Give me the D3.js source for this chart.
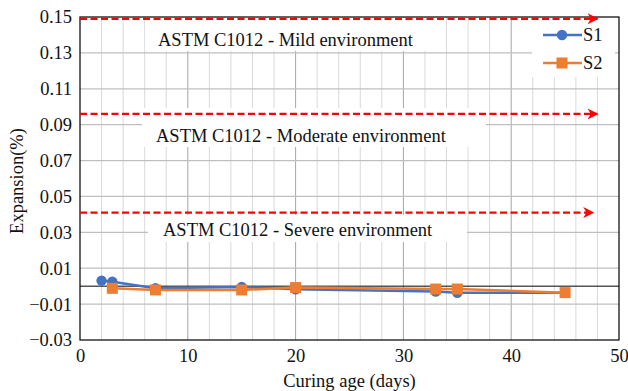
<!DOCTYPE html>
<html>
<head>
<meta charset="utf-8">
<script src="https://cdn.jsdelivr.net/npm/d3@7"></script>
<style>
  html, body { margin: 0; padding: 0; background: #fff; }
  #chart text { font-family: "Liberation Serif", "Times New Roman", "DejaVu Serif", serif; fill: #111; }
</style>
</head>
<body>
<svg id="chart" width="628" height="391"></svg>
<script>
// Curing age (days) and expansion (%) for the two mixes
const curingAge = [2, 3, 7, 15, 20, 33, 35, 45];
const s1Values = [0.0031, 0.0025, -0.0012, -0.0005, -0.0017, -0.0030, -0.0037, -0.0036];
const s2Age = [3, 7, 15, 20, 33, 35, 45];
const s2Values = [-0.0012, -0.0021, -0.0021, -0.0008, -0.0016, -0.0016, -0.0036];

// Axis ticks
const xTicks = [0, 10, 20, 30, 40, 50];
const xMinorTicks = d3.range(2, 50, 2);
const yTicks = [-0.03, -0.01, 0.01, 0.03, 0.05, 0.07, 0.09, 0.11, 0.13, 0.15];

// ASTM C1012 limit arrows: level (%), arrow end (days), label
const limitLevels = [0.149, 0.096, 0.041];
const limitEnds = [48, 48, 47.6];
const limitLabels = [
  "ASTM C1012 - Mild environment",
  "ASTM C1012 - Moderate environment",
  "ASTM C1012 - Severe environment"
];

const seriesNames = ["S1", "S2"];
const seriesColors = ["#4472C4", "#ED7D31"];

const FONT = "18.5px 'Liberation Serif', 'Times New Roman', serif";

const svg = d3.select("#chart");
const plot = { left: 80, right: 619, top: 17, bottom: 340 };

const x = d3.scaleLinear().domain([0, 50]).range([plot.left, plot.right]);
const y = d3.scaleLinear().domain([-0.03, 0.15]).range([plot.bottom, plot.top]);

// Gridlines
const grid = svg.append("g");
grid.selectAll(".vminor").data(xMinorTicks.filter(d => d % 10 !== 0)).join("line")
  .attr("x1", d => x(d)).attr("x2", d => x(d))
  .attr("y1", plot.top).attr("y2", plot.bottom)
  .attr("stroke", "#d9d9d9").attr("stroke-width", 1);
grid.selectAll(".vmajor").data(xTicks.slice(1, -1)).join("line")
  .attr("x1", d => x(d)).attr("x2", d => x(d))
  .attr("y1", plot.top).attr("y2", plot.bottom)
  .attr("stroke", "#a6a6a6").attr("stroke-width", 1);
grid.selectAll(".hmajor").data(yTicks.slice(1, -1)).join("line")
  .attr("x1", plot.left).attr("x2", plot.right)
  .attr("y1", d => y(d)).attr("y2", d => y(d))
  .attr("stroke", "#bfbfbf").attr("stroke-width", 1.2);

// White label boxes that sit over the grid
const boxes = [
  { x0: 145, x1: 434, y0: plot.top + 1, y1: 51 },
  { x0: 142, x1: 486, y0: 108, y1: 147 },
  { x0: 148, x1: 467, y0: 215, y1: 242 },
  { x0: 532, x1: 615, y0: plot.top + 1, y1: 77 }
];
svg.append("g").selectAll("rect").data(boxes).join("rect")
  .attr("x", d => d.x0).attr("y", d => d.y0)
  .attr("width", d => d.x1 - d.x0).attr("height", d => d.y1 - d.y0)
  .attr("fill", "#fff");

// Zero line
svg.append("line")
  .attr("x1", plot.left).attr("x2", plot.right)
  .attr("y1", y(0)).attr("y2", y(0))
  .attr("stroke", "#000").attr("stroke-width", 1);

// Plot frame
svg.append("rect")
  .attr("x", plot.left).attr("y", plot.top)
  .attr("width", plot.right - plot.left).attr("height", plot.bottom - plot.top)
  .attr("fill", "none").attr("stroke", "#000").attr("stroke-width", 1.2);

// Limit arrows
const defs = svg.append("defs");
defs.append("marker")
  .attr("id", "arrowhead").attr("viewBox", "0 0 10 10")
  .attr("refX", 9).attr("refY", 5)
  .attr("markerWidth", 4.6).attr("markerHeight", 4.6)
  .attr("markerUnits", "strokeWidth").attr("orient", "auto")
  .append("path").attr("d", "M0,0 L10,5 L0,10 L3,5 Z").attr("fill", "#ff0000");

svg.append("g").selectAll("line").data(limitLevels).join("line")
  .attr("x1", x(0)).attr("x2", (d, i) => x(limitEnds[i]))
  .attr("y1", d => y(d)).attr("y2", d => y(d))
  .attr("stroke", "#ff0000").attr("stroke-width", 2.4)
  .attr("stroke-dasharray", "7,3.5")
  .attr("marker-end", "url(#arrowhead)");

const labelPos = [{ x: 158, y: 46 }, { x: 156, y: 142 }, { x: 163, y: 236 }];
svg.append("g").selectAll("text").data(limitLabels).join("text")
  .attr("x", (d, i) => labelPos[i].x).attr("y", (d, i) => labelPos[i].y)
  .style("font", FONT).text(d => d);

// Series
const line = d3.line().x(d => x(d[0])).y(d => y(d[1]));
const s1 = curingAge.map((d, i) => [d, s1Values[i]]);
const s2 = s2Age.map((d, i) => [d, s2Values[i]]);

svg.append("path").datum(s1).attr("d", line)
  .attr("fill", "none").attr("stroke", seriesColors[0]).attr("stroke-width", 2.5);
svg.append("g").selectAll("circle").data(s1).join("circle")
  .attr("cx", d => x(d[0])).attr("cy", d => y(d[1])).attr("r", 5.2)
  .attr("fill", seriesColors[0]);

svg.append("path").datum(s2).attr("d", line)
  .attr("fill", "none").attr("stroke", seriesColors[1]).attr("stroke-width", 2.5);
svg.append("g").selectAll("rect").data(s2).join("rect")
  .attr("x", d => x(d[0]) - 5.5).attr("y", d => y(d[1]) - 5.5)
  .attr("width", 11).attr("height", 11)
  .attr("fill", seriesColors[1]);

// Axes labels
const yAxis = d3.axisLeft(y).tickValues(yTicks).tickSize(0).tickPadding(8)
  .tickFormat(d3.format(".2f"));
const gy = svg.append("g").attr("transform", `translate(${plot.left},0)`).call(yAxis);
gy.select(".domain").remove();
gy.selectAll("text").style("font", FONT).attr("fill", "#111");

const xAxis = d3.axisBottom(x).tickValues(xTicks).tickSize(0).tickPadding(9);
const gx = svg.append("g").attr("transform", `translate(0,${plot.bottom})`).call(xAxis);
gx.select(".domain").remove();
gx.selectAll("text").style("font", FONT).attr("fill", "#111");

svg.append("text").attr("x", (plot.left + plot.right) / 2).attr("y", 387)
  .attr("text-anchor", "middle").style("font", FONT).text("Curing age (days)");
svg.append("text").attr("transform", "translate(23,181) rotate(-90)")
  .attr("text-anchor", "middle").style("font", FONT).text("Expansion(%)");

// Legend
const legend = svg.append("g");
seriesNames.forEach((name, i) => {
  const ly = 35 + i * 28;
  legend.append("line").attr("x1", 543).attr("x2", 582).attr("y1", ly).attr("y2", ly)
    .attr("stroke", seriesColors[i]).attr("stroke-width", 2.5);
  if (i === 0) {
    legend.append("circle").attr("cx", 562).attr("cy", ly).attr("r", 5.2).attr("fill", seriesColors[i]);
  } else {
    legend.append("rect").attr("x", 556.5).attr("y", ly - 5.5).attr("width", 11).attr("height", 11)
      .attr("fill", seriesColors[i]);
  }
  legend.append("text").attr("x", 583).attr("y", ly + 6).style("font", FONT).text(name);
});
</script>
</body>
</html>
